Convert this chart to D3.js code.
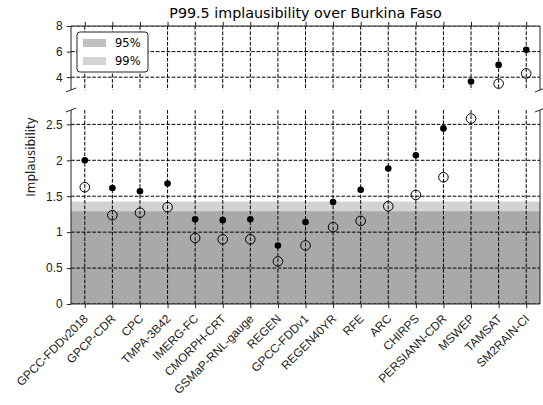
<!DOCTYPE html>
<html><head><meta charset="utf-8">
<script src="https://cdn.jsdelivr.net/npm/d3@7"></script>
<style>body{margin:0;background:#fff}svg{display:block;font-family:"DejaVu Sans",sans-serif}</style>
</head><body><svg id="c" width="543" height="405"></svg>
<script>
const categories = ["GPCC-FDDv2018","GPCP-CDR","CPC","TMPA-3B42","IMERG-FC","CMORPH-CRT","GSMaP-RNL-gauge","REGEN","GPCC-FDDv1","REGEN40YR","RFE","ARC","CHIRPS","PERSIANN-CDR","MSWEP","TAMSAT","SM2RAIN-CI"];
const filledValues = [2.0,1.615,1.57,1.676,1.18,1.167,1.18,0.815,1.14,1.42,1.59,1.885,2.07,2.444,3.66,4.96,6.15];
const openValues = [1.625,1.236,1.27,1.347,0.92,0.90,0.90,0.593,0.815,1.07,1.157,1.36,1.518,1.764,2.58,3.5,4.29];
const thresholds = [{label:"95%", value:1.29}, {label:"99%", value:1.426}];
const topTicks = [4,6,8];
const bottomTicks = [0,0.5,1,1.5,2,2.5];
const titleText = "P99.5 implausibility over Burkina Faso";
const yLabel = "Implausibility";

const svg = d3.select("#c");
const L = 71, R = 540;
const FS = 11.9;
const x = d3.scalePoint().domain(categories).range([L, R]).padding(0.5);
const yTop = d3.scaleLinear().domain([3, 8]).range([90, 26]);
const yBot = d3.scaleLinear().domain([0, 2.7]).range([304, 110]);

const defs = svg.append("defs");
function clip(id, y0, y1) {
  defs.append("clipPath").attr("id", id).append("rect").attr("x", L).attr("y", y0).attr("width", R - L).attr("height", y1 - y0);
}
clip("ct", 26, 90); clip("cb", 110, 304);

function panel(y, cid, ticks, isTop) {
  const g = svg.append("g");
  const [y0, y1] = [y.range()[1], y.range()[0]];
  const pg = g.append("g").attr("clip-path", `url(#${cid})`);
  pg.append("rect").attr("x", L).attr("width", R - L)
    .attr("y", y(thresholds[1].value)).attr("height", Math.max(0, y(y.domain()[0]) - y(thresholds[1].value)))
    .attr("fill", "#d3d3d3");
  pg.append("rect").attr("x", L).attr("width", R - L)
    .attr("y", y(thresholds[0].value)).attr("height", Math.max(0, y(y.domain()[0]) - y(thresholds[0].value)))
    .attr("fill", "#808080").attr("fill-opacity", 0.5);
  pg.selectAll(".hg").data(ticks).join("line")
    .attr("x1", L).attr("x2", R).attr("y1", d => y(d)).attr("y2", d => y(d))
    .attr("stroke", "#000").attr("stroke-width", 1).attr("stroke-dasharray", "3.7,1.6");
  pg.selectAll(".vg").data(categories).join("line")
    .attr("x1", d => x(d)).attr("x2", d => x(d)).attr("y1", y0).attr("y2", y1)
    .attr("stroke", "#000").attr("stroke-width", 1).attr("stroke-dasharray", "3.7,1.6");
  pg.selectAll(".op").data(categories).join("circle")
    .attr("cx", d => x(d)).attr("cy", (d, i) => y(openValues[i])).attr("r", 4.8)
    .attr("fill", "none").attr("stroke", "#000").attr("stroke-width", 1);
  pg.selectAll(".fp").data(categories).join("circle")
    .attr("cx", d => x(d)).attr("cy", (d, i) => y(filledValues[i])).attr("r", 3.3)
    .attr("fill", "#000");
  const ya = g.append("g").attr("transform", `translate(${L},0)`)
    .call(d3.axisLeft(y).tickValues(ticks).tickFormat(d3.format("~g")).tickSize(4.2).tickPadding(4.2));
  ya.select(".domain").remove();
  ya.selectAll("text").attr("font-size", FS).attr("fill", "#222");
  ya.selectAll("line").attr("stroke", "#222");
  if (isTop) {
    const xa = g.append("g").attr("transform", `translate(0,${y0})`)
      .call(d3.axisTop(x).tickSize(4.2).tickFormat(""));
    xa.select(".domain").remove();
    xa.selectAll("line").attr("stroke", "#222");
  } else {
    const xa = g.append("g").attr("transform", `translate(0,${y1})`)
      .call(d3.axisBottom(x).tickSize(4.2));
    xa.select(".domain").remove();
    xa.selectAll("line").attr("stroke", "#222");
    xa.selectAll("text").attr("font-size", FS).attr("fill", "#222")
      .attr("text-anchor", "end").attr("x", 0).attr("y", 0).attr("dy", 0)
      .attr("transform", "translate(3.5,15.5) rotate(-45)");
  }
  const sp = g.append("g").attr("stroke", "#222").attr("stroke-width", 1).attr("fill", "none");
  sp.append("line").attr("x1", L).attr("x2", L).attr("y1", y0).attr("y2", y1);
  sp.append("line").attr("x1", R).attr("x2", R).attr("y1", y0).attr("y2", y1);
  if (isTop) sp.append("line").attr("x1", L).attr("x2", R).attr("y1", y0).attr("y2", y0);
  else sp.append("line").attr("x1", L).attr("x2", R).attr("y1", y1).attr("y2", y1);
  const by = isTop ? y1 : y0;
  [L, R].forEach(bx => {
    sp.append("line").attr("x1", bx - 5).attr("y1", by + 2).attr("x2", bx + 5).attr("y2", by - 2);
  });
}
panel(yTop, "ct", topTicks, true);
panel(yBot, "cb", bottomTicks, false);

svg.append("text").attr("x", (L + R) / 2).attr("y", 18.3).attr("text-anchor", "middle")
  .attr("font-size", 14.3).attr("fill", "#000").text(titleText);
svg.append("text").attr("transform", "translate(35,157) rotate(-90)").attr("text-anchor", "middle")
  .attr("font-size", FS).attr("fill", "#222").text(yLabel);

const lg = svg.append("g").attr("transform", "translate(77,32)");
lg.append("rect").attr("width", 71).attr("height", 40).attr("rx", 3).attr("fill", "#fff")
  .attr("stroke", "#222").attr("stroke-width", 1);
const legendFill = [{fill:"#808080", op:0.5}, {fill:"#d3d3d3", op:1}];
thresholds.forEach((t, i) => {
  lg.append("rect").attr("x", 6).attr("y", 7 + i * 18).attr("width", 23).attr("height", 8)
    .attr("fill", legendFill[i].fill).attr("fill-opacity", legendFill[i].op);
  lg.append("text").attr("x", 38).attr("y", 15 + i * 18).attr("font-size", 11.5).attr("fill", "#000").text(t.label);
});
</script></body></html>
